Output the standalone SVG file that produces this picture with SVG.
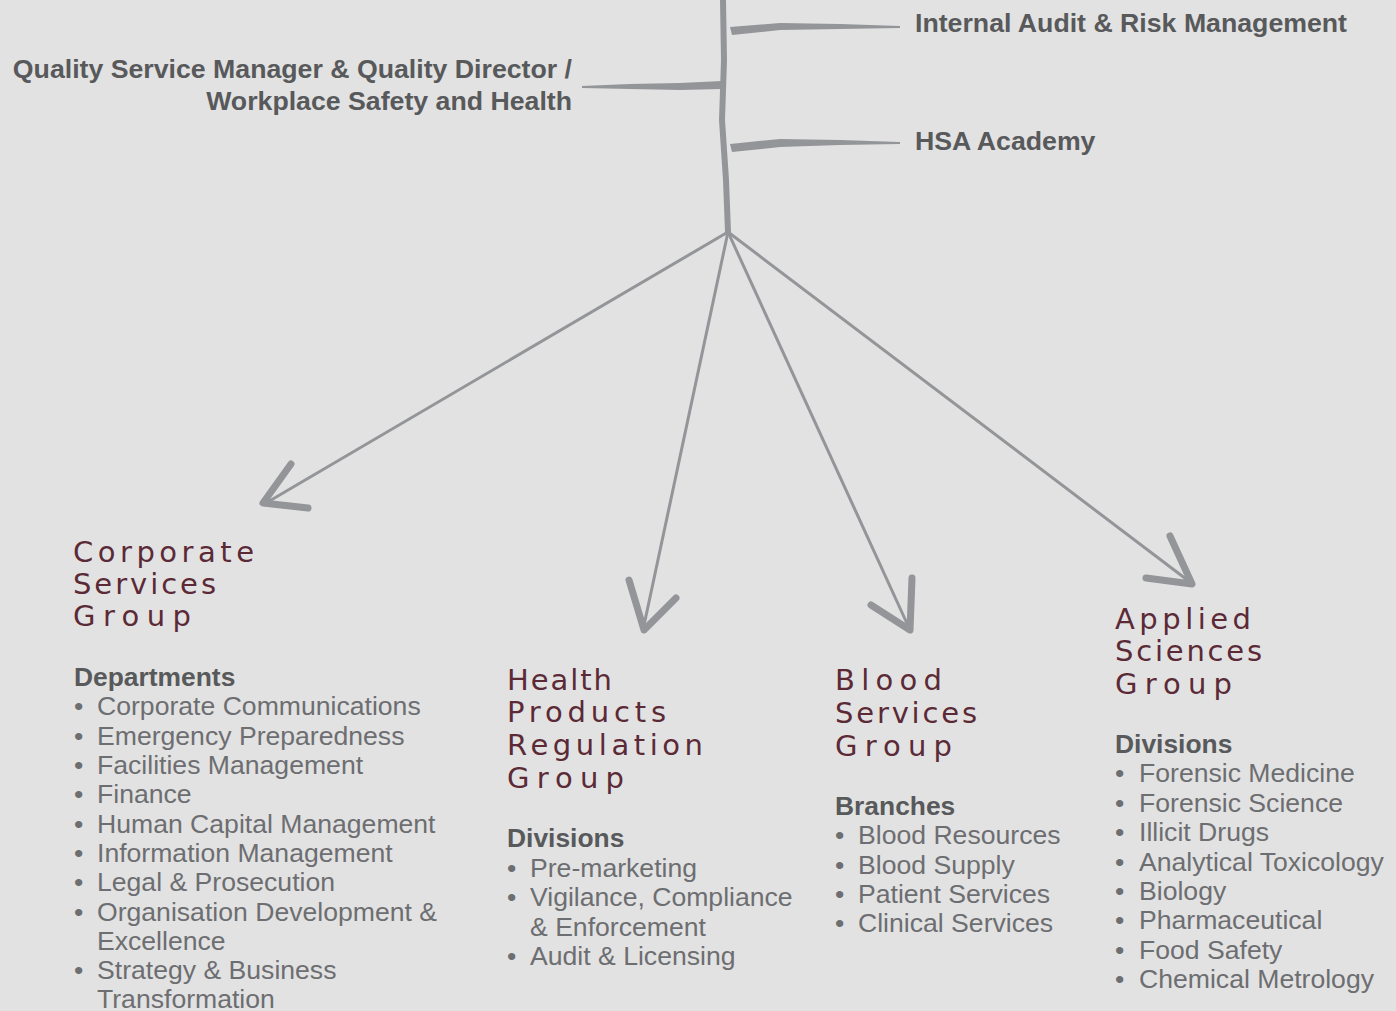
<svg xmlns="http://www.w3.org/2000/svg" width="1396" height="1011" viewBox="0 0 1396 1011">
<style>
.bg{fill:#e2e2e2}
.lbl{font-family:"Liberation Sans",Arial,sans-serif;font-weight:bold;font-size:26.7px;fill:#58595b}
.item{font-family:"Liberation Sans",Arial,sans-serif;font-size:26.6px;fill:#6d6e71}
.hd{font-family:"Liberation Sans",Arial,sans-serif;font-weight:bold;font-size:26.4px;fill:#58595b}
.ttl{font-family:"DejaVu Sans",sans-serif;font-size:29px;fill:#5b2a36}
.ln{stroke:#939598;fill:none;stroke-linecap:round;stroke-linejoin:round}
.br{fill:#939598;stroke:none}
.arr{stroke:#939598;fill:none;stroke-width:7;stroke-linecap:round;stroke-linejoin:round}
</style>
<rect class="bg" x="0" y="0" width="1396" height="1011"/>
<g id="connectors">
<path class="ln" stroke-width="6" d="M723,0 L724,60 L722,120 L726,180 L728,232"/>
<path class="br" d="M730,27 L780,23 L840,24 L900,26 L900,28 L840,29 L780,30 L732,35 Z"/>
<path class="br" d="M722,81 L680,83 L630,84 L582,86 L582,88 L630,89 L680,90 L722,89 Z"/>
<path class="br" d="M730,144 L780,139 L840,140 L900,142 L900,144 L840,145 L780,147 L732,152 Z"/>
<path class="ln" stroke-width="3" d="M728,232 L266,503"/>
<path class="ln" stroke-width="3" d="M728,232 L643,630"/>
<path class="ln" stroke-width="3" d="M728,232 L910,630"/>
<path class="ln" stroke-width="3" d="M728,232 L1190,582"/>
<path class="arr" d="M291,464 L263,503 L308,508"/>
<path class="arr" d="M629,580 L644,630 L676,598"/>
<path class="arr" d="M912,578 L910,630 L871,605"/>
<path class="arr" d="M1170,536 L1192,584 L1146,578"/>
</g>
<g id="internal-audit"><text class="lbl" x="915" y="32">Internal Audit &amp; Risk Management</text></g>
<g id="quality"><text class="lbl" x="572" y="78" text-anchor="end">Quality Service Manager &amp; Quality Director /</text><text class="lbl" x="572" y="110" text-anchor="end">Workplace Safety and Health</text></g>
<g id="hsa-academy"><text class="lbl" x="915" y="150">HSA Academy</text></g>
<g id="corporate">
<text class="ttl" x="73" y="562" textLength="181">Corporate</text>
<text class="ttl" x="73" y="594" textLength="143">Services</text>
<text class="ttl" x="73" y="626" textLength="118">Group</text>
<text class="hd" x="74" y="686">Departments</text>
<text class="item" x="74" y="715">•</text><text class="item" x="97" y="715">Corporate Communications</text>
<text class="item" x="74" y="745">•</text><text class="item" x="97" y="745">Emergency Preparedness</text>
<text class="item" x="74" y="774">•</text><text class="item" x="97" y="774">Facilities Management</text>
<text class="item" x="74" y="803">•</text><text class="item" x="97" y="803">Finance</text>
<text class="item" x="74" y="833">•</text><text class="item" x="97" y="833">Human Capital Management</text>
<text class="item" x="74" y="862">•</text><text class="item" x="97" y="862">Information Management</text>
<text class="item" x="74" y="891">•</text><text class="item" x="97" y="891">Legal &amp; Prosecution</text>
<text class="item" x="74" y="921">•</text><text class="item" x="97" y="921">Organisation Development &amp;</text>
<text class="item" x="97" y="950">Excellence</text>
<text class="item" x="74" y="979">•</text><text class="item" x="97" y="979">Strategy &amp; Business</text>
<text class="item" x="97" y="1008">Transformation</text>
</g>
<g id="health-products">
<text class="ttl" x="507" y="690" textLength="105">Health</text>
<text class="ttl" x="507" y="722" textLength="159">Products</text>
<text class="ttl" x="507" y="755" textLength="196">Regulation</text>
<text class="ttl" x="507" y="788" textLength="117">Group</text>
<text class="hd" x="507" y="847">Divisions</text>
<text class="item" x="507" y="877">•</text><text class="item" x="530" y="877">Pre-marketing</text>
<text class="item" x="507" y="906">•</text><text class="item" x="530" y="906">Vigilance, Compliance</text>
<text class="item" x="530" y="936">&amp; Enforcement</text>
<text class="item" x="507" y="965">•</text><text class="item" x="530" y="965">Audit &amp; Licensing</text>
</g>
<g id="blood-services">
<text class="ttl" x="835" y="690" textLength="107">Blood</text>
<text class="ttl" x="835" y="723" textLength="142">Services</text>
<text class="ttl" x="835" y="756" textLength="117">Group</text>
<text class="hd" x="835" y="815">Branches</text>
<text class="item" x="835" y="844">•</text><text class="item" x="858" y="844">Blood Resources</text>
<text class="item" x="835" y="874">•</text><text class="item" x="858" y="874">Blood Supply</text>
<text class="item" x="835" y="903">•</text><text class="item" x="858" y="903">Patient Services</text>
<text class="item" x="835" y="932">•</text><text class="item" x="858" y="932">Clinical Services</text>
</g>
<g id="applied-sciences">
<text class="ttl" x="1115" y="629" textLength="136">Applied</text>
<text class="ttl" x="1115" y="661" textLength="147">Sciences</text>
<text class="ttl" x="1115" y="694" textLength="117">Group</text>
<text class="hd" x="1115" y="753">Divisions</text>
<text class="item" x="1115" y="782">•</text><text class="item" x="1139" y="782">Forensic Medicine</text>
<text class="item" x="1115" y="812">•</text><text class="item" x="1139" y="812">Forensic Science</text>
<text class="item" x="1115" y="841">•</text><text class="item" x="1139" y="841">Illicit Drugs</text>
<text class="item" x="1115" y="871">•</text><text class="item" x="1139" y="871">Analytical Toxicology</text>
<text class="item" x="1115" y="900">•</text><text class="item" x="1139" y="900">Biology</text>
<text class="item" x="1115" y="929">•</text><text class="item" x="1139" y="929">Pharmaceutical</text>
<text class="item" x="1115" y="959">•</text><text class="item" x="1139" y="959">Food Safety</text>
<text class="item" x="1115" y="988">•</text><text class="item" x="1139" y="988">Chemical Metrology</text>
</g>
</svg>
